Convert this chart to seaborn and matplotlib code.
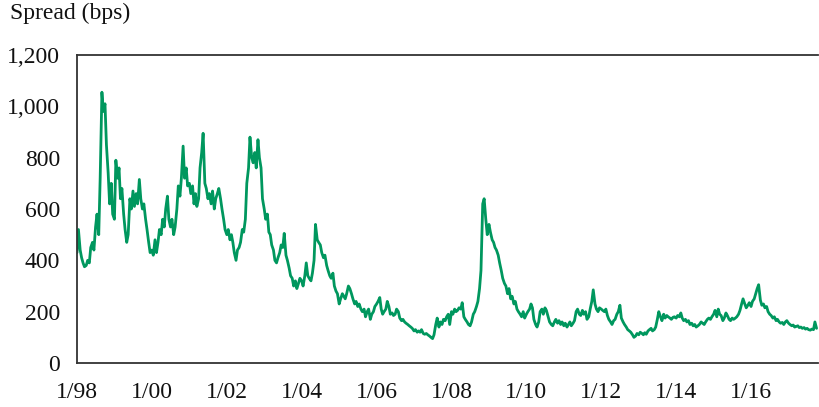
import numpy as np
import pandas as pd
import matplotlib
matplotlib.use("Agg")
import matplotlib.pyplot as plt
import matplotlib.dates as mdates
from matplotlib.ticker import FuncFormatter
import seaborn as sns

# Spread values, two points per month, Jan 1998 to Sep 2017
y1998 = [430, 520, 440, 410, 390, 375, 380, 400, 390, 450, 470, 440,
         530, 580, 500, 720, 1055, 980, 1010, 850, 740, 620, 700, 580]
y1999 = [560, 790, 720, 760, 640, 680, 580, 520, 470, 500, 640, 600,
         670, 610, 660, 620, 715, 640, 600, 620, 560, 520, 470, 430]
y2000 = [440, 420, 480, 430, 470, 520, 500, 560, 530, 600, 650, 560,
         530, 560, 500, 530, 600, 690, 650, 720, 845, 720, 760, 690]
y2001 = [700, 660, 690, 620, 660, 610, 640, 760, 820, 895, 700, 680,
         640, 660, 620, 670, 600, 640, 660, 680, 640, 600, 560, 520]
y2002 = [500, 520, 480, 500, 470, 430, 400, 440, 450, 470, 520, 510,
         560, 700, 760, 880, 800, 780, 820, 760, 870, 800, 760, 640]
y2003 = [600, 560, 580, 510, 500, 460, 440, 400, 390, 410, 430, 460,
         450, 505, 420, 400, 370, 340, 330, 300, 320, 290, 310, 330]
y2004 = [320, 300, 340, 390, 340, 330, 320, 350, 400, 540, 480, 470,
         460, 430, 410, 420, 380, 360, 340, 330, 350, 300, 280, 270]
y2005 = [230, 250, 270, 260, 250, 270, 300, 290, 270, 250, 230, 240,
         220, 230, 210, 200, 210, 180, 200, 210, 170, 190, 200, 220]
y2006 = [230, 240, 255, 210, 190, 200, 210, 240, 220, 190, 195, 185,
         190, 210, 200, 175, 165, 170, 160, 155, 150, 145, 140, 135]
y2007 = [125, 130, 120, 125, 120, 130, 115, 112, 115, 110, 105, 100,
         95, 110, 150, 175, 140, 160, 150, 170, 165, 180, 190, 150]
y2008 = [200, 190, 210, 200, 205, 215, 210, 235, 180, 170, 160, 150,
         145, 160, 190, 200, 220, 240, 290, 360, 620, 640, 560, 500]
y2009 = [540, 510, 480, 470, 450, 440, 420, 390, 360, 330, 310, 300,
         270, 290, 250, 260, 230, 240, 210, 200, 190, 180, 200, 175]
y2010 = [190, 200, 210, 230, 215, 170, 150, 140, 160, 200, 210, 190,
         215, 205, 180, 160, 150, 145, 160, 170, 155, 165, 150, 160]
y2011 = [145, 155, 140, 150, 160, 145, 155, 165, 200, 210, 190, 185,
         205, 190, 200, 170, 180, 210, 240, 285, 230, 210, 200, 215]
y2012 = [210, 205, 200, 210, 185, 170, 160, 150, 165, 170, 190, 200,
         225, 175, 160, 150, 140, 130, 125, 120, 110, 100, 105, 115]
y2013 = [110, 120, 115, 110, 118, 112, 125, 130, 135, 125, 130, 140,
         170, 200, 180, 165, 190, 175, 185, 180, 175, 170, 178, 180]
y2014 = [175, 185, 180, 195, 175, 165, 170, 160, 165, 150, 155, 145,
         150, 140, 145, 150, 160, 155, 150, 160, 170, 175, 170, 180]
y2015 = [190, 205, 180, 210, 190, 185, 165, 175, 195, 185, 170, 165,
         175, 170, 175, 180, 190, 205, 230, 250, 230, 215, 225, 235]
y2016 = [220, 240, 250, 270, 290, 305, 245, 225, 230, 215, 220, 200,
         190, 185, 175, 180, 165, 170, 160, 155, 158, 150, 160, 165]
y2017 = [155, 150, 145, 148, 140, 142, 145, 138, 140, 135, 138, 132,
         135, 130, 128, 132, 130, 160, 135]

spread = (y1998 + y1999 + y2000 + y2001 + y2002 + y2003 + y2004 + y2005
          + y2006 + y2007 + y2008 + y2009 + y2010 + y2011 + y2012 + y2013
          + y2014 + y2015 + y2016 + y2017)
dates = pd.date_range("1998-01-01", periods=len(spread), freq="SMS")

y_ticks = [0, 200, 400, 600, 800, 1000, 1200]

sns.set_theme(style="white")
plt.rcParams["font.family"] = ["Liberation Serif", "DejaVu Serif"]

fig = plt.figure(figsize=(8.19, 4.07), dpi=100)
ax = fig.add_axes([77 / 819, 1 - 363 / 407, (818 - 77) / 819, (363 - 55) / 407])

sns.lineplot(x=dates, y=spread, ax=ax, color="#00975E", linewidth=2.0)

ax.set_ylim(0, 1200)
ax.set_yticks(y_ticks)
ax.yaxis.set_major_formatter(FuncFormatter(lambda v, p: f"{int(v):,}"))
ax.set_xlim(pd.Timestamp("1998-01-01"), pd.Timestamp("2017-10-15"))
ax.xaxis.set_major_locator(mdates.YearLocator(2))
ax.xaxis.set_major_formatter(
    FuncFormatter(lambda v, p: "{}/{:%y}".format(mdates.num2date(v).month, mdates.num2date(v))))

ax.set_xlabel("")
ax.set_ylabel("")
for side in ["left", "bottom", "top"]:
    ax.spines[side].set_color("#333333")
    ax.spines[side].set_linewidth(1.3)
ax.spines["right"].set_visible(False)

ax.tick_params(axis="both", direction="in", color="#333333", width=1.2,
               labelsize=17, labelcolor="#111111")
ax.tick_params(axis="y", length=6, pad=12)
ax.tick_params(axis="x", length=5, pad=14)

fig.text(10 / 819, 1 - 3 / 407, "Spread (bps)", ha="left", va="top",
         fontsize=17, color="#111111")

fig.savefig("out.png", dpi=100)
